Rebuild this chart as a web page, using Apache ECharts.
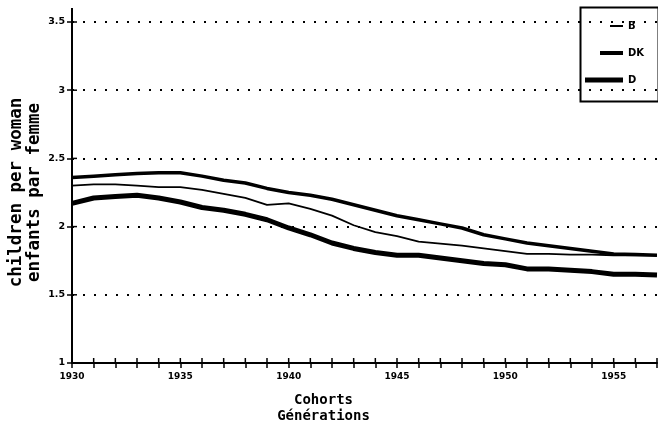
<!DOCTYPE html>
<html><head><meta charset="utf-8">
<script src="https://cdn.jsdelivr.net/npm/echarts@6/dist/echarts.min.js"></script>
<style>html,body{margin:0;padding:0;background:#fff}#c{width:658px;height:430px}</style>
</head><body><div id="c"></div>
<script>
const years = [1930,1931,1932,1933,1934,1935,1936,1937,1938,1939,1940,1941,1942,1943,1944,1945,1946,1947,1948,1949,1950,1951,1952,1953,1954,1955,1956,1957];
const seriesB  = [2.30,2.31,2.31,2.30,2.29,2.29,2.27,2.24,2.21,2.16,2.17,2.13,2.08,2.01,1.96,1.93,1.89,1.875,1.86,1.84,1.82,1.80,1.80,1.795,1.795,1.79,1.79,1.79];
const seriesDK = [2.36,2.37,2.38,2.39,2.395,2.395,2.37,2.34,2.32,2.28,2.25,2.23,2.20,2.16,2.12,2.08,2.05,2.02,1.99,1.94,1.91,1.88,1.86,1.84,1.82,1.80,1.795,1.79];
const seriesD  = [2.17,2.21,2.22,2.23,2.21,2.18,2.14,2.12,2.09,2.05,1.99,1.94,1.88,1.84,1.81,1.79,1.79,1.77,1.75,1.73,1.72,1.69,1.69,1.68,1.67,1.65,1.65,1.645];
const seriesNames = ['B','DK','D'];
const yTicks = [1,1.5,2,2.5,3,3.5];
const yTickLabels = ['1','1.5','2','2.5','3','3.5'];
const xLabelYears = [1930,1935,1940,1945,1950,1955];

const FONT = 'DejaVu Sans';
const pair = (arr) => years.map((y,i)=>[y, arr[i]]);
const chart = echarts.init(document.getElementById('c'), null, {renderer:'canvas'});
const legendBox = {type:'rect', left:578, top:5, shape:{width:78, height:94},
    style:{fill:'none', stroke:'#000', lineWidth:2}, z:100};
const legendText = {fontFamily:FONT, fontWeight:'bold', fontSize:10, color:'#000'};
chart.setOption({
  animation:false,
  backgroundColor:'#fff',
  grid:{left:72, right:1, top:22, bottom:67, outerBoundsMode:'none', containLabel:false},
  xAxis:{type:'value', min:1930, max:1957, interval:1,
      axisLine:{show:true, lineStyle:{color:'#000', width:2}},
      axisTick:{show:true, length:5, lineStyle:{color:'#000', width:1.5}},
      axisLabel:{margin:9, fontFamily:FONT, fontWeight:'bold', fontSize:9, color:'#000',
        formatter:v => xLabelYears.indexOf(v) >= 0 ? String(v) : ''},
      splitLine:{show:false},
      name:'Cohorts\nGénérations', nameLocation:'middle', nameGap:29, nameMoveOverlap:false,
      nameTextStyle:{fontFamily:'DejaVu Sans Mono', fontWeight:'bold', fontSize:14, color:'#000', lineHeight:16, padding:[0,82,0,0]}
  },
  yAxis:{type:'value', min:1, max:3.5, interval:0.5,
      axisLine:{show:true, lineStyle:{color:'#000', width:2}},
      axisTick:{show:true, length:5, lineStyle:{color:'#000', width:1.5}},
      axisLabel:{margin:7, fontFamily:FONT, fontWeight:'bold', fontSize:9.5, color:'#000',
        formatter:v => yTickLabels[yTicks.indexOf(v)]},
      splitLine:{show:true, lineStyle:{color:'#000', width:2, type:[2,9]}},
      name:'children per woman\nenfants par femme', nameLocation:'middle', nameGap:29, nameMoveOverlap:false,
      nameTextStyle:{fontFamily:'DejaVu Sans Mono', fontWeight:'bold', fontSize:17.5, color:'#000', lineHeight:18}
  },
  legend:[
    {data:[seriesNames[0]], left:605, top:16, icon:'rect', itemWidth:13, itemHeight:2, itemGap:0, textStyle:legendText},
    {data:[seriesNames[1]], left:595, top:43, icon:'rect', itemWidth:23, itemHeight:4, itemGap:0, textStyle:legendText},
    {data:[seriesNames[2]], left:580, top:70, icon:'rect', itemWidth:38, itemHeight:5, itemGap:0, textStyle:legendText}
  ],
  graphic:[legendBox],
  series:[
    {name:seriesNames[0], type:'line', data:pair(seriesB), showSymbol:false, symbol:'none',
     lineStyle:{color:'#000', width:1.8}, itemStyle:{color:'#000'}},
    {name:seriesNames[1], type:'line', data:pair(seriesDK), showSymbol:false, symbol:'none',
     lineStyle:{color:'#000', width:3.5}, itemStyle:{color:'#000'}},
    {name:seriesNames[2], type:'line', data:pair(seriesD), showSymbol:false, symbol:'none',
     lineStyle:{color:'#000', width:5}, itemStyle:{color:'#000'}}
  ]
});
// inner halves of the cross-shaped ticks, placed through the axis scales
const extra = [legendBox];
const axisTop = chart.convertToPixel({xAxisIndex:0, yAxisIndex:0}, [1930, 3.5]);
extra.push({type:'line', shape:{x1:axisTop[0], y1:axisTop[1], x2:axisTop[0], y2:axisTop[1]-14}, style:{stroke:'#000', lineWidth:2}});
years.forEach(y => {
  const p = chart.convertToPixel({xAxisIndex:0, yAxisIndex:0}, [y, 1]);
  extra.push({type:'line', shape:{x1:p[0], y1:p[1], x2:p[0], y2:p[1]-5}, style:{stroke:'#000', lineWidth:1.5}});
});
yTicks.forEach(v => {
  const p = chart.convertToPixel({xAxisIndex:0, yAxisIndex:0}, [1930, v]);
  extra.push({type:'line', shape:{x1:p[0], y1:p[1], x2:p[0]+5, y2:p[1]}, style:{stroke:'#000', lineWidth:1.5}});
});
chart.setOption({graphic:extra});
</script></body></html>
